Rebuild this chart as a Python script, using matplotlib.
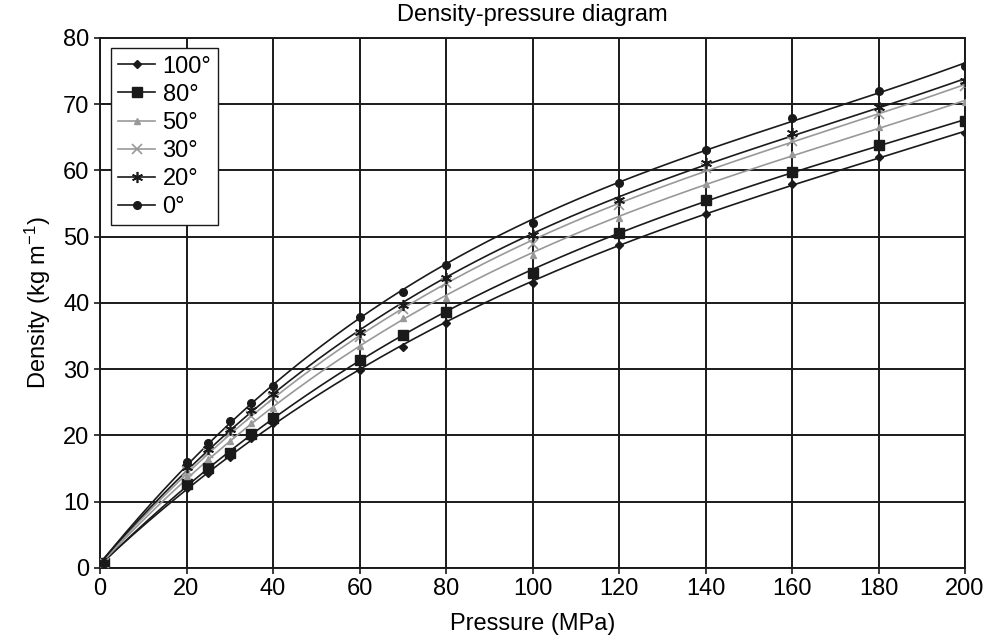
import numpy as np
import matplotlib
matplotlib.use("Agg")
import matplotlib.pyplot as plt

plt.rcParams['font.family'] = ['Liberation Sans', 'DejaVu Sans']
plt.rcParams['mathtext.default'] = 'regular'

pressure = [1, 20, 25, 30, 35, 40, 60, 70, 80, 100, 120, 140, 160, 180, 200]
d_100 = [0.8, 12.0, 14.4, 16.8, 19.6, 21.9, 29.9, 33.4, 37.0, 43.0, 48.7, 53.4, 58.0, 62.0, 65.7]
d_80 = [0.8, 12.6, 15.1, 17.3, 20.2, 22.7, 31.4, 35.2, 38.6, 44.5, 50.5, 55.5, 59.8, 63.8, 67.5]
d_50 = [0.8, 13.8, 16.5, 19.2, 21.8, 24.2, 33.5, 37.7, 40.8, 47.3, 52.8, 58.0, 62.5, 66.5, 70.3]
d_30 = [0.8, 14.6, 17.4, 20.4, 23.0, 25.6, 34.8, 39.0, 43.0, 48.9, 54.8, 60.4, 64.5, 68.5, 72.8]
d_20 = [0.8, 15.2, 18.0, 21.0, 23.8, 26.3, 35.6, 39.7, 43.8, 50.3, 55.5, 61.1, 65.7, 69.6, 73.5]
d_0 = [0.8, 16.0, 18.9, 22.2, 24.9, 27.5, 37.9, 41.7, 45.7, 52.0, 58.1, 63.1, 67.9, 72.0, 75.8]
labels = ['100°', '80°', '50°', '30°', '20°', '0°']

series = [d_100, d_80, d_50, d_30, d_20, d_0]
styles = [
    dict(color='#1a1a1a', marker='D', ms=4.5, mfc='#1a1a1a', mec='#1a1a1a'),
    dict(color='#1a1a1a', marker='s', ms=6.5, mfc='#1a1a1a', mec='#1a1a1a'),
    dict(color='#999999', marker='^', ms=4, mfc='#999999', mec='#999999'),
    dict(color='#999999', marker='x', ms=7, mec='#999999', mew=1.2),
    dict(color='#1a1a1a', marker=(6, 2, 0), ms=8, mec='#1a1a1a', mew=1.2),
    dict(color='#1a1a1a', marker='o', ms=5.5, mfc='#1a1a1a', mec='#1a1a1a'),
]

FS = 17

fig = plt.figure(figsize=(10, 6.41), dpi=100)
ax = fig.add_axes([0.1, 0.114, 0.865, 0.827])

p = np.array(pressure, dtype=float)
pp = np.linspace(p.min(), p.max(), 300)
for d, lab, st in zip(series, labels, styles):
    d = np.array(d, dtype=float)
    coef = np.polyfit(p, d, 3)
    ax.plot(pp, np.polyval(coef, pp), color=st['color'], lw=1.2, zorder=3)
    ax.plot(p, d, linestyle='none', zorder=4,
            **{k: v for k, v in st.items() if k != 'color'})
    ax.plot([], [], color=st['color'], lw=1.2, label=lab,
            **{k: v for k, v in st.items() if k != 'color'})

ax.set_xlim(0, 200)
ax.set_ylim(0, 80)
ax.set_xticks(np.arange(0, 201, 20))
ax.set_yticks(np.arange(0, 81, 10))
ax.grid(True, color='#1a1a1a', lw=1.4, zorder=1)
ax.set_axisbelow(True)
for s in ax.spines.values():
    s.set_color('#1a1a1a')
    s.set_linewidth(1.4)
ax.tick_params(axis='both', labelsize=FS, length=4.5, width=1.2, color='#1a1a1a', pad=3)

ax.set_title('Density-pressure diagram', fontsize=FS, pad=12)
ax.set_xlabel('Pressure (MPa)', fontsize=FS, labelpad=9)
ax.set_ylabel('Density (kg m$^{-1}$)', fontsize=FS, labelpad=7)

leg = ax.legend(loc='upper left', fontsize=FS, frameon=True, fancybox=False,
                edgecolor='#1a1a1a', framealpha=1, borderaxespad=0.45,
                handlelength=1.6, handletextpad=0.3, labelspacing=0.26,
                borderpad=0.3)
leg.get_frame().set_linewidth(1.0)

fig.savefig('out.png', dpi=100)
